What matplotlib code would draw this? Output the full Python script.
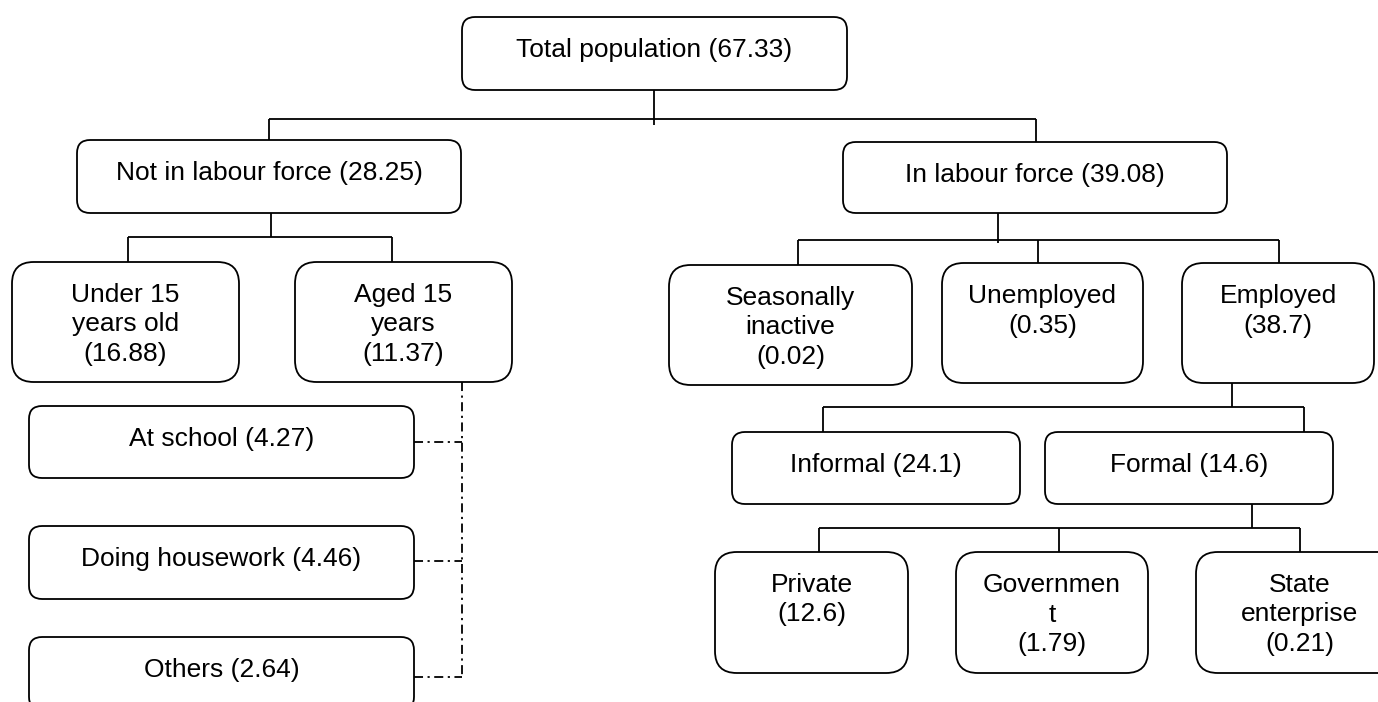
"""
Labour force breakdown drawn as a tree of rounded boxes (millions of people).
Whole figure is one axes in pixel units so boxes and connectors line up with the layout.
"""

from matplotlib import pyplot as plt
from matplotlib.patches import FancyBboxPatch

plt.rcParams['font.family'] = ['Liberation Sans', 'DejaVu Sans']

# node text and values
node_keys = ['total', 'not_lf', 'in_lf', 'under15', 'aged15', 'school', 'housework', 'others',
             'seasonal', 'unemployed', 'employed', 'informal', 'formal', 'private', 'government', 'state']
node_names = ['Total population', 'Not in labour force', 'In labour force', 'Under 15\nyears old',
              'Aged 15\nyears', 'At school', 'Doing housework', 'Others', 'Seasonally\ninactive',
              'Unemployed', 'Employed', 'Informal', 'Formal', 'Private', 'Governmen\nt', 'State\nenterprise']
node_values = [67.33, 28.25, 39.08, 16.88, 11.37, 4.27, 4.46, 2.64, 0.02, 0.35, 38.7, 24.1, 14.6, 12.6, 1.79, 0.21]
# value goes on the same line for these, on its own line for the rest
inline_value = ['total', 'not_lf', 'in_lf', 'school', 'housework', 'others', 'informal', 'formal']

# layout: box corners in pixels (x0, y0, x1, y1), y measured from the top
boxes = {
    'total': (462, 17, 847, 90),
    'not_lf': (77, 140, 461, 213),
    'in_lf': (843, 142, 1227, 213),
    'under15': (12, 262, 239, 382),
    'aged15': (295, 262, 512, 382),
    'school': (29, 406, 414, 478),
    'housework': (29, 526, 414, 599),
    'others': (29, 637, 414, 710),
    'seasonal': (669, 265, 912, 385),
    'unemployed': (942, 263, 1143, 383),
    'employed': (1182, 263, 1374, 383),
    'informal': (732, 432, 1020, 504),
    'formal': (1045, 432, 1333, 504),
    'private': (715, 552, 908, 673),
    'government': (956, 552, 1148, 673),
    'state': (1196, 552, 1404, 673),
}

# connectors: (x-list, y-list)
solid_lines = [
    ([654, 654], [90, 125]), ([269, 1036], [119, 119]),
    ([269, 269], [119, 140]), ([1036, 1036], [119, 142]),
    ([271, 271], [213, 237]), ([128, 392], [237, 237]),
    ([128, 128], [237, 262]), ([392, 392], [237, 262]),
    ([998, 998], [213, 243]), ([798, 1279], [240, 240]),
    ([798, 798], [240, 265]), ([1038, 1038], [240, 263]), ([1279, 1279], [240, 263]),
    ([1232, 1232], [383, 407]), ([823, 1304], [407, 407]),
    ([823, 823], [407, 432]), ([1304, 1304], [407, 432]),
    ([1252, 1252], [504, 528]), ([819, 1300], [528, 528]),
    ([819, 819], [528, 552]), ([1059, 1059], [528, 552]), ([1300, 1300], [528, 552]),
]
dashed_lines = [
    ([462, 462], [382, 677]),
    ([414, 462], [442, 442]),
    ([414, 462], [561, 561]),
    ([414, 462], [677, 677]),
]

W, H = 1378, 702
LW = 1.3


def node_label(key: str, name: str, value: float) -> str:
    sep = ' ' if key in inline_value else '\n'
    return f'{name}{sep}({value:g})'


def draw_box(ax: plt.Axes, box: tuple, label: str):
    x0, y0, x1, y1 = box
    w, h = x1 - x0, y1 - y0
    r = 0.18 * min(w, h)
    patch = FancyBboxPatch((x0, y0), w, h, boxstyle=f'round,pad=0,rounding_size={r}',
                           facecolor='white', edgecolor='black', linewidth=LW, zorder=2)
    ax.add_patch(patch)
    cx = (x0 + x1) / 2
    for i, line in enumerate(label.split('\n')):
        ax.text(cx, y0 + 40 + 29.5 * i, line, ha='center', va='baseline',
                fontsize=19, color='black', zorder=3)


if __name__ == '__main__':
    fig = plt.figure(figsize=(W / 100, H / 100), dpi=100)
    ax = fig.add_axes([0, 0, 1, 1])
    ax.set_xlim(0, W)
    ax.set_ylim(H, 0)
    ax.axis('off')

    for xs, ys in solid_lines:
        ax.plot(xs, ys, color='black', linewidth=LW, solid_capstyle='butt', zorder=1)
    for xs, ys in dashed_lines:
        ax.plot(xs, ys, color='black', linewidth=LW, linestyle=(0, (5, 2.5, 1.2, 2.5)), zorder=1)

    for key, name, value in zip(node_keys, node_names, node_values):
        draw_box(ax, boxes[key], node_label(key, name, value))

    fig.savefig('out.png', dpi=100)
